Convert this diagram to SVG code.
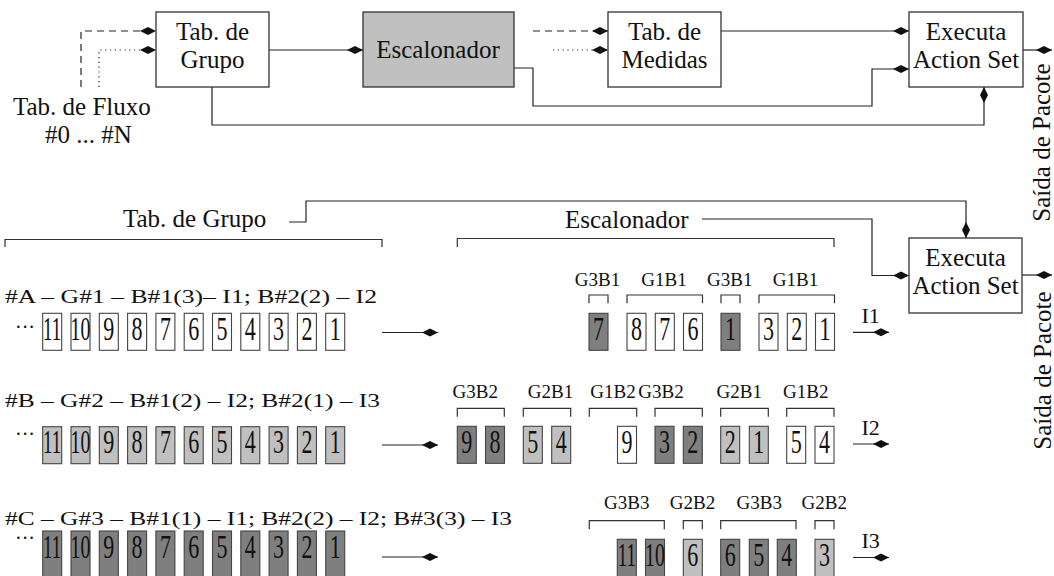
<svg xmlns="http://www.w3.org/2000/svg" width="1054" height="576" viewBox="0 0 1054 576">
<style>
text{font-family:"Liberation Serif","Times New Roman",serif;fill:#111}
.t25{font-size:25px}
.mid{text-anchor:middle}
.node{fill:#fff;stroke:#333;stroke-width:1.3}
.gray{fill:#c0c0c0}
.bx{stroke:#444;stroke-width:1.1}
.w{fill:#fff}.l{fill:#c0c0c0}.d{fill:#7f7f7f}
.dg{font-size:33px;text-anchor:middle}
.dd{font-size:22px;text-anchor:middle}
.row{font-size:19px}
.dots{font-size:20px}
.g{font-size:19px;text-anchor:middle}
.i{font-size:22px}
.ln{fill:none;stroke:#222;stroke-width:1.2}
.arr{marker-end:url(#dia)}
.dash{stroke-dasharray:7 5}
.dot{stroke-dasharray:1.2 3.6}
.br{fill:none;stroke:#333;stroke-width:1.2}
</style>
<defs>
<marker id="dia" markerUnits="userSpaceOnUse" viewBox="-17 -5 18 10" refX="0" refY="0" markerWidth="18" markerHeight="10" orient="auto">
<path d="M0,0 L-8,-4 L-16,0 L-8,4 Z" fill="#111"/>
</marker>
</defs>

<g id="connectors">
<path class="ln dash arr" d="M81,87 V31 H156"/>
<path class="ln dot arr" d="M99,87 V50 H156"/>
<path class="ln arr" d="M269,50 H363"/>
<path class="ln dash arr" d="M533,31 H608"/>
<path class="ln dot arr" d="M553,50 H608"/>
<path class="ln arr" d="M721,31 H909"/>
<path class="ln arr" d="M514,68 H533 V106 H872 V69 H909"/>
<path class="ln arr" d="M212,87 V125 H984 V87"/>
<path class="ln arr" d="M1023,50 H1052"/>
<path class="ln arr" d="M289,222 H306 V201 H966 V238"/>
<path class="ln arr" d="M702,219 H872 V275.5 H909"/>
<path class="ln arr" d="M1022,275 H1052"/>
<path class="ln arr" d="M382,332.5 H438"/>
<path class="ln arr" d="M382,445 H438"/>
<path class="ln arr" d="M382,557 H438"/>
<path class="ln arr" d="M853,332.3 H889"/>
<path class="ln arr" d="M853,444 H889"/>
<path class="ln arr" d="M853,557.5 H889"/>
</g>

<g id="tab-grupo">
<rect class="node" x="156" y="12" width="113" height="75"/>
<text class="t25 mid" x="212.5" y="40">Tab. de</text>
<text class="t25 mid" x="212.5" y="68">Grupo</text>
</g>
<g id="escalonador">
<rect class="node gray" x="363" y="12" width="151" height="75"/>
<text class="t25 mid" x="438" y="58">Escalonador</text>
</g>
<g id="tab-medidas">
<rect class="node" x="608" y="12" width="113" height="75"/>
<text class="t25 mid" x="664.5" y="40">Tab. de</text>
<text class="t25 mid" x="664.5" y="68">Medidas</text>
</g>
<g id="executa-1">
<rect class="node" x="909" y="12" width="114" height="75"/>
<text class="t25 mid" x="966" y="40">Executa</text>
<text class="t25 mid" x="966" y="68">Action Set</text>
</g>
<g id="executa-2">
<rect class="node" x="909" y="238" width="113" height="75"/>
<text class="t25 mid" x="965.5" y="265.5">Executa</text>
<text class="t25 mid" x="965.5" y="294">Action Set</text>
</g>
<g id="tab-fluxo">
<text class="t25" x="13" y="115">Tab. de Fluxo</text>
<text class="t25" x="45" y="143">#0 ... #N</text>
</g>
<g id="saida">
<text class="t25 mid" transform="translate(1050,142.5) rotate(-90)">Saída de Pacote</text>
<text class="t25 mid" transform="translate(1051,370.5) rotate(-90)">Saída de Pacote</text>
</g>

<g id="label-tab-grupo">
<text class="t25" x="123" y="227">Tab. de Grupo</text>
<path class="br" d="M5,247 V239.5 H382 V247"/>
</g>
<g id="label-escalonador">
<text class="t25" x="565" y="228">Escalonador</text>
<path class="br" d="M457.3,247 V238.5 H834 V247"/>
</g>

<g id="row-a-left">
<text class="row" x="5" y="303" textLength="372" lengthAdjust="spacingAndGlyphs">#A – G#1 – B#1(3)– I1; B#2(2) – I2</text>
<text class="dots" x="15" y="334">···</text>
<g class="bx w">
<rect x="42.7" y="313.3" width="19" height="37"/><rect x="71" y="313.3" width="19" height="37"/><rect x="99.3" y="313.3" width="19" height="37"/><rect x="127.6" y="313.3" width="19" height="37"/><rect x="155.9" y="313.3" width="19" height="37"/><rect x="184.2" y="313.3" width="19" height="37"/><rect x="212.5" y="313.3" width="19" height="37"/><rect x="240.8" y="313.3" width="19" height="37"/><rect x="269.1" y="313.3" width="19" height="37"/><rect x="297.4" y="313.3" width="19" height="37"/><rect x="325.7" y="313.3" width="19" height="37"/>
</g>
<g>
<text class="dd" transform="translate(52.2,340) scale(0.86,1.5)">11</text><text class="dd" transform="translate(80.5,340) scale(0.9,1.5)">10</text><text class="dg" x="108.8" y="340" textLength="11" lengthAdjust="spacingAndGlyphs">9</text><text class="dg" x="137.1" y="340" textLength="11" lengthAdjust="spacingAndGlyphs">8</text><text class="dg" x="165.4" y="340" textLength="11" lengthAdjust="spacingAndGlyphs">7</text><text class="dg" x="193.7" y="340" textLength="11" lengthAdjust="spacingAndGlyphs">6</text><text class="dg" x="222" y="340" textLength="11" lengthAdjust="spacingAndGlyphs">5</text><text class="dg" x="250.3" y="340" textLength="11" lengthAdjust="spacingAndGlyphs">4</text><text class="dg" x="278.6" y="340" textLength="11" lengthAdjust="spacingAndGlyphs">3</text><text class="dg" x="306.9" y="340" textLength="11" lengthAdjust="spacingAndGlyphs">2</text><text class="dg" x="335.2" y="340" textLength="11" lengthAdjust="spacingAndGlyphs">1</text>
</g>
</g>

<g id="row-b-left">
<text class="row" x="5" y="407" textLength="375" lengthAdjust="spacingAndGlyphs">#B – G#2 – B#1(2) – I2; B#2(1) – I3</text>
<text class="dots" x="15" y="441">···</text>
<g class="bx l">
<rect x="42.7" y="426.7" width="19" height="37"/><rect x="71" y="426.7" width="19" height="37"/><rect x="99.3" y="426.7" width="19" height="37"/><rect x="127.6" y="426.7" width="19" height="37"/><rect x="155.9" y="426.7" width="19" height="37"/><rect x="184.2" y="426.7" width="19" height="37"/><rect x="212.5" y="426.7" width="19" height="37"/><rect x="240.8" y="426.7" width="19" height="37"/><rect x="269.1" y="426.7" width="19" height="37"/><rect x="297.4" y="426.7" width="19" height="37"/><rect x="325.7" y="426.7" width="19" height="37"/>
</g>
<g>
<text class="dd" transform="translate(52.2,453.4) scale(0.86,1.5)">11</text><text class="dd" transform="translate(80.5,453.4) scale(0.9,1.5)">10</text><text class="dg" x="108.8" y="453.4" textLength="11" lengthAdjust="spacingAndGlyphs">9</text><text class="dg" x="137.1" y="453.4" textLength="11" lengthAdjust="spacingAndGlyphs">8</text><text class="dg" x="165.4" y="453.4" textLength="11" lengthAdjust="spacingAndGlyphs">7</text><text class="dg" x="193.7" y="453.4" textLength="11" lengthAdjust="spacingAndGlyphs">6</text><text class="dg" x="222" y="453.4" textLength="11" lengthAdjust="spacingAndGlyphs">5</text><text class="dg" x="250.3" y="453.4" textLength="11" lengthAdjust="spacingAndGlyphs">4</text><text class="dg" x="278.6" y="453.4" textLength="11" lengthAdjust="spacingAndGlyphs">3</text><text class="dg" x="306.9" y="453.4" textLength="11" lengthAdjust="spacingAndGlyphs">2</text><text class="dg" x="335.2" y="453.4" textLength="11" lengthAdjust="spacingAndGlyphs">1</text>
</g>
</g>

<g id="row-c-left">
<text class="row" x="5" y="525" textLength="507" lengthAdjust="spacingAndGlyphs">#C – G#3 – B#1(1) – I1; B#2(2) – I2; B#3(3) – I3</text>
<text class="dots" x="15" y="545">···</text>
<g class="bx d">
<rect x="42.7" y="531" width="19" height="50"/><rect x="71" y="531" width="19" height="50"/><rect x="99.3" y="531" width="19" height="50"/><rect x="127.6" y="531" width="19" height="50"/><rect x="155.9" y="531" width="19" height="50"/><rect x="184.2" y="531" width="19" height="50"/><rect x="212.5" y="531" width="19" height="50"/><rect x="240.8" y="531" width="19" height="50"/><rect x="269.1" y="531" width="19" height="50"/><rect x="297.4" y="531" width="19" height="50"/><rect x="325.7" y="531" width="19" height="50"/>
</g>
<g>
<text class="dd" transform="translate(52.2,558) scale(0.86,1.5)">11</text><text class="dd" transform="translate(80.5,558) scale(0.9,1.5)">10</text><text class="dg" x="108.8" y="558" textLength="11" lengthAdjust="spacingAndGlyphs">9</text><text class="dg" x="137.1" y="558" textLength="11" lengthAdjust="spacingAndGlyphs">8</text><text class="dg" x="165.4" y="558" textLength="11" lengthAdjust="spacingAndGlyphs">7</text><text class="dg" x="193.7" y="558" textLength="11" lengthAdjust="spacingAndGlyphs">6</text><text class="dg" x="222" y="558" textLength="11" lengthAdjust="spacingAndGlyphs">5</text><text class="dg" x="250.3" y="558" textLength="11" lengthAdjust="spacingAndGlyphs">4</text><text class="dg" x="278.6" y="558" textLength="11" lengthAdjust="spacingAndGlyphs">3</text><text class="dg" x="306.9" y="558" textLength="11" lengthAdjust="spacingAndGlyphs">2</text><text class="dg" x="335.2" y="558" textLength="11" lengthAdjust="spacingAndGlyphs">1</text>
</g>
</g>

<g id="row-a-right">
<text class="g" x="597.5" y="286">G3B1</text><text class="g" x="664" y="286">G1B1</text><text class="g" x="729.7" y="286">G3B1</text><text class="g" x="795.5" y="286">G1B1</text>
<path class="br" d="M589,303.3 V295 H608 V303.3 M627,303.3 V295 H702.5 V303.3 M721,303.3 V295 H740 V303.3 M759,303.3 V295 H834.5 V303.3"/>
<rect class="bx d" x="589" y="313.3" width="19" height="37"/>
<rect class="bx w" x="627" y="313.3" width="19" height="37"/>
<rect class="bx w" x="655.3" y="313.3" width="19" height="37"/>
<rect class="bx w" x="683.5" y="313.3" width="19" height="37"/>
<rect class="bx d" x="721" y="313.3" width="19" height="37"/>
<rect class="bx w" x="759" y="313.3" width="19" height="37"/>
<rect class="bx w" x="787.3" y="313.3" width="19" height="37"/>
<rect class="bx w" x="815.5" y="313.3" width="19" height="37"/>
<text class="dg" x="598.5" y="340" textLength="11" lengthAdjust="spacingAndGlyphs">7</text>
<text class="dg" x="636.5" y="340" textLength="11" lengthAdjust="spacingAndGlyphs">8</text>
<text class="dg" x="664.8" y="340" textLength="11" lengthAdjust="spacingAndGlyphs">7</text>
<text class="dg" x="693" y="340" textLength="11" lengthAdjust="spacingAndGlyphs">6</text>
<text class="dg" x="730.5" y="340" textLength="11" lengthAdjust="spacingAndGlyphs">1</text>
<text class="dg" x="768.5" y="340" textLength="11" lengthAdjust="spacingAndGlyphs">3</text>
<text class="dg" x="796.8" y="340" textLength="11" lengthAdjust="spacingAndGlyphs">2</text>
<text class="dg" x="825" y="340" textLength="11" lengthAdjust="spacingAndGlyphs">1</text>
<text class="i" x="861.5" y="322.7">I1</text>
</g>

<g id="row-b-right">
<text class="g" x="475.3" y="398.3">G3B2</text><text class="g" x="550.5" y="398.3">G2B1</text><text class="g" x="613" y="398.3">G1B2</text><text class="g" x="661" y="398.3">G3B2</text><text class="g" x="739.2" y="398.3">G2B1</text><text class="g" x="805.8" y="398.3">G1B2</text>
<path class="br" d="M457.3,416.7 V408.3 H504.3 V416.7 M523.3,416.7 V408.3 H570.7 V416.7 M589.3,416.7 V408.3 H636.7 V416.7 M655,416.7 V408.3 H702.3 V416.7 M720.7,416.7 V408.3 H768.3 V416.7 M786.7,416.7 V408.3 H834 V416.7"/>
<rect class="bx d" x="457.3" y="426.3" width="19" height="37"/>
<rect class="bx d" x="485.5" y="426.3" width="19" height="37"/>
<rect class="bx l" x="523.3" y="426.3" width="19" height="37"/>
<rect class="bx l" x="551.7" y="426.3" width="19" height="37"/>
<rect class="bx w" x="617.5" y="426.3" width="19" height="37"/>
<rect class="bx d" x="655" y="426.3" width="19" height="37"/>
<rect class="bx d" x="683.3" y="426.3" width="19" height="37"/>
<rect class="bx l" x="720.7" y="426.3" width="19" height="37"/>
<rect class="bx l" x="749.3" y="426.3" width="19" height="37"/>
<rect class="bx w" x="786.7" y="426.3" width="19" height="37"/>
<rect class="bx w" x="815" y="426.3" width="19" height="37"/>
<text class="dg" x="466.8" y="453" textLength="11" lengthAdjust="spacingAndGlyphs">9</text>
<text class="dg" x="495" y="453" textLength="11" lengthAdjust="spacingAndGlyphs">8</text>
<text class="dg" x="532.8" y="453" textLength="11" lengthAdjust="spacingAndGlyphs">5</text>
<text class="dg" x="561.2" y="453" textLength="11" lengthAdjust="spacingAndGlyphs">4</text>
<text class="dg" x="627" y="453" textLength="11" lengthAdjust="spacingAndGlyphs">9</text>
<text class="dg" x="664.5" y="453" textLength="11" lengthAdjust="spacingAndGlyphs">3</text>
<text class="dg" x="692.8" y="453" textLength="11" lengthAdjust="spacingAndGlyphs">2</text>
<text class="dg" x="730.2" y="453" textLength="11" lengthAdjust="spacingAndGlyphs">2</text>
<text class="dg" x="758.8" y="453" textLength="11" lengthAdjust="spacingAndGlyphs">1</text>
<text class="dg" x="796.2" y="453" textLength="11" lengthAdjust="spacingAndGlyphs">5</text>
<text class="dg" x="824.5" y="453" textLength="11" lengthAdjust="spacingAndGlyphs">4</text>
<text class="i" x="861.5" y="435">I2</text>
</g>

<g id="row-c-right">
<text class="g" x="626.7" y="509.3">G3B3</text><text class="g" x="692.5" y="509.3">G2B2</text><text class="g" x="759.2" y="509.3">G3B3</text><text class="g" x="824.2" y="509.3">G2B2</text>
<path class="br" d="M589.3,529.3 V520.7 H664.3 V529.3 M683.3,529.3 V520.7 H702.3 V529.3 M720.7,529.3 V520.7 H796 V529.3 M815,529.3 V520.7 H834 V529.3"/>
<rect class="bx d" x="617.3" y="539.3" width="19" height="40"/>
<rect class="bx d" x="645.5" y="539.3" width="19" height="40"/>
<rect class="bx l" x="683.3" y="539.3" width="19" height="40"/>
<rect class="bx d" x="720.7" y="539.3" width="19" height="40"/>
<rect class="bx d" x="749.3" y="539.3" width="19" height="40"/>
<rect class="bx d" x="777.3" y="539.3" width="19" height="40"/>
<rect class="bx l" x="815" y="539.3" width="19" height="40"/>
<text class="dd" transform="translate(626.8,566) scale(0.86,1.5)">11</text>
<text class="dd" transform="translate(655,566) scale(0.9,1.5)">10</text>
<text class="dg" x="692.8" y="566" textLength="11" lengthAdjust="spacingAndGlyphs">6</text>
<text class="dg" x="730.2" y="566" textLength="11" lengthAdjust="spacingAndGlyphs">6</text>
<text class="dg" x="758.8" y="566" textLength="11" lengthAdjust="spacingAndGlyphs">5</text>
<text class="dg" x="786.8" y="566" textLength="11" lengthAdjust="spacingAndGlyphs">4</text>
<text class="dg" x="824.5" y="566" textLength="11" lengthAdjust="spacingAndGlyphs">3</text>
<text class="i" x="861.5" y="548.3">I3</text>
</g>
</svg>
